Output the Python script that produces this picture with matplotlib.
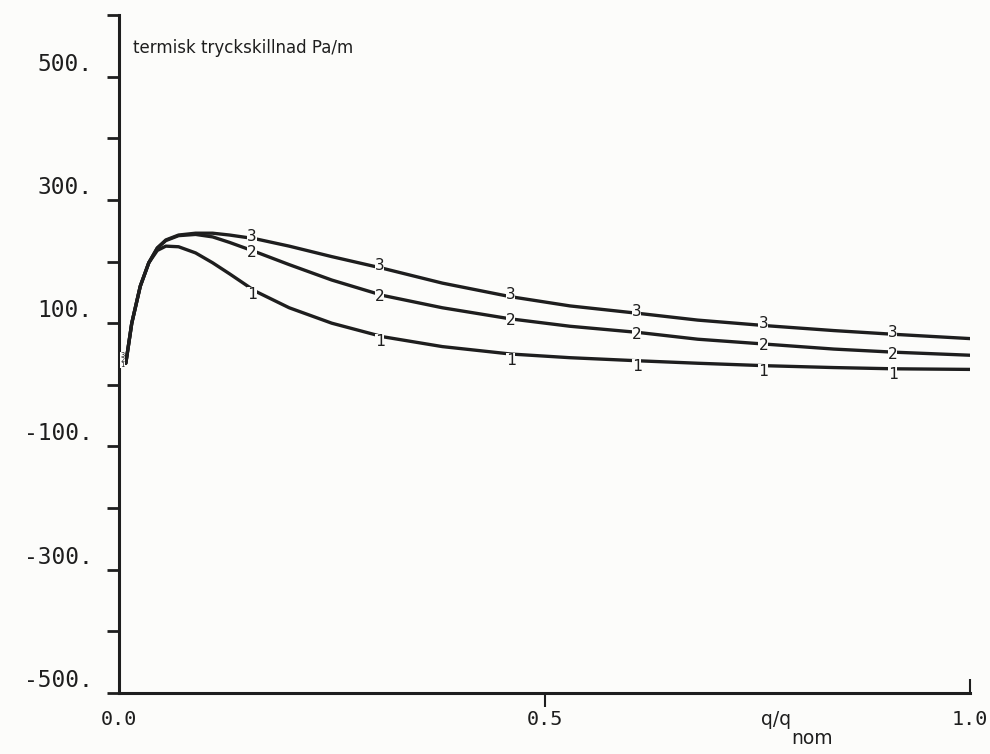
import numpy as np
import matplotlib
matplotlib.use("Agg")
import matplotlib.pyplot as plt
from matplotlib.transforms import ScaledTranslation

# ---- data ----
x = [0.0, 0.008, 0.015, 0.025, 0.035, 0.045, 0.055, 0.07, 0.09, 0.11, 0.13,
     0.16, 0.20, 0.25, 0.31, 0.38, 0.46, 0.53, 0.61, 0.68, 0.76, 0.84, 0.91, 1.0]
curve1 = [45, 35, 100, 160, 198, 218, 225, 224, 214, 198, 180,
          152, 125, 100, 78, 62, 50, 44, 39, 35, 31, 28, 26, 25]
curve2 = [45, 35, 100, 160, 198, 222, 234, 242, 244, 240, 231,
          216, 195, 170, 145, 125, 107, 95, 85, 74, 66, 58, 53, 48]
curve3 = [45, 35, 100, 160, 198, 222, 235, 243, 246, 246, 243,
          237, 225, 208, 189, 165, 143, 128, 116, 105, 96, 88, 82, 75]
series = {"1": curve1, "2": curve2, "3": curve3}
label_x = [0.156, 0.306, 0.46, 0.608, 0.757, 0.909]
start_x = 0.004
label_shift_px = {"1": -6, "2": -2, "3": 2}

y_ticks = list(range(-500, 601, 100))
y_labels = ["-500.", "", "-300.", "", "-100.", "", "100.", "", "300.", "", "500.", ""]
x_ticks = [0.0, 0.5, 1.0]
x_labels = ["0.0", "0.5", "1.0"]
title_text = "termisk tryckskillnad Pa/m"

ink = "#1e1e1e"
paper = "#fcfcfa"

fig = plt.figure(figsize=(9.9, 7.54), dpi=100, facecolor=paper)
ax = fig.add_axes([119 / 990, 61 / 754, (970 - 119) / 990, 678 / 754])
ax.set_facecolor(paper)

for name, vals in series.items():
    ax.plot(x, vals, color=ink, lw=2.4, solid_capstyle="round", zorder=2)
    shift = ScaledTranslation(0, label_shift_px[name] / 100, fig.dpi_scale_trans)
    for lx in label_x:
        ly = np.interp(lx, x, vals)
        ax.text(lx, ly, name, family="DejaVu Sans Mono", fontsize=11.5,
                color=ink, ha="center", va="center", zorder=3,
                transform=ax.transData + shift,
                bbox=dict(boxstyle="square,pad=0.0", fc=paper, ec="none"))

# clustered start labels of the three curves at q = 0
start_y = np.interp(start_x, x, curve1)
ax.text(start_x, start_y, "\n".join(reversed(list(series.keys()))),
        family="DejaVu Sans Mono", fontsize=5, linespacing=0.75, color=ink,
        ha="center", va="center", zorder=3,
        bbox=dict(boxstyle="square,pad=0.0", fc=paper, ec="none"))

ax.set_xlim(0, 1.0)
ax.set_ylim(-500, 600)
for s in ["top", "right"]:
    ax.spines[s].set_visible(False)
for s in ["left", "bottom"]:
    ax.spines[s].set_linewidth(2.2)
    ax.spines[s].set_color(ink)

ax.set_yticks(y_ticks)
ax.set_yticklabels(y_labels, family="DejaVu Sans Mono", fontsize=16.5, color=ink)
ax.tick_params(axis="y", direction="out", length=9, width=2, color=ink, pad=10)
off = ScaledTranslation(0, 0.15, fig.dpi_scale_trans)
for lab in ax.get_yticklabels():
    lab.set_transform(lab.get_transform() + off)

ax.set_xticks(x_ticks)
ax.set_xticklabels(x_labels, family="DejaVu Sans Mono", fontsize=14.5, color=ink)
ax.tick_params(axis="x", direction="out", length=10, width=1.5, color=ink, pad=2)
xt = ax.xaxis.get_major_ticks()
xt[0].tick1line.set_visible(False)
xt[2].tick1line.set_marker(matplotlib.lines.TICKUP)

ax.text(0.016, 546, title_text, family="DejaVu Sans", fontsize=12,
        color=ink, ha="left", va="center")
ax.text(0.79, -543, "q/q", family="DejaVu Sans", fontsize=13.5,
        color=ink, ha="right", va="center", clip_on=False)
ax.text(0.79, -574, "nom", family="DejaVu Sans", fontsize=13.5,
        color=ink, ha="left", va="center", clip_on=False)

fig.savefig("out.png", dpi=100, facecolor=paper)
